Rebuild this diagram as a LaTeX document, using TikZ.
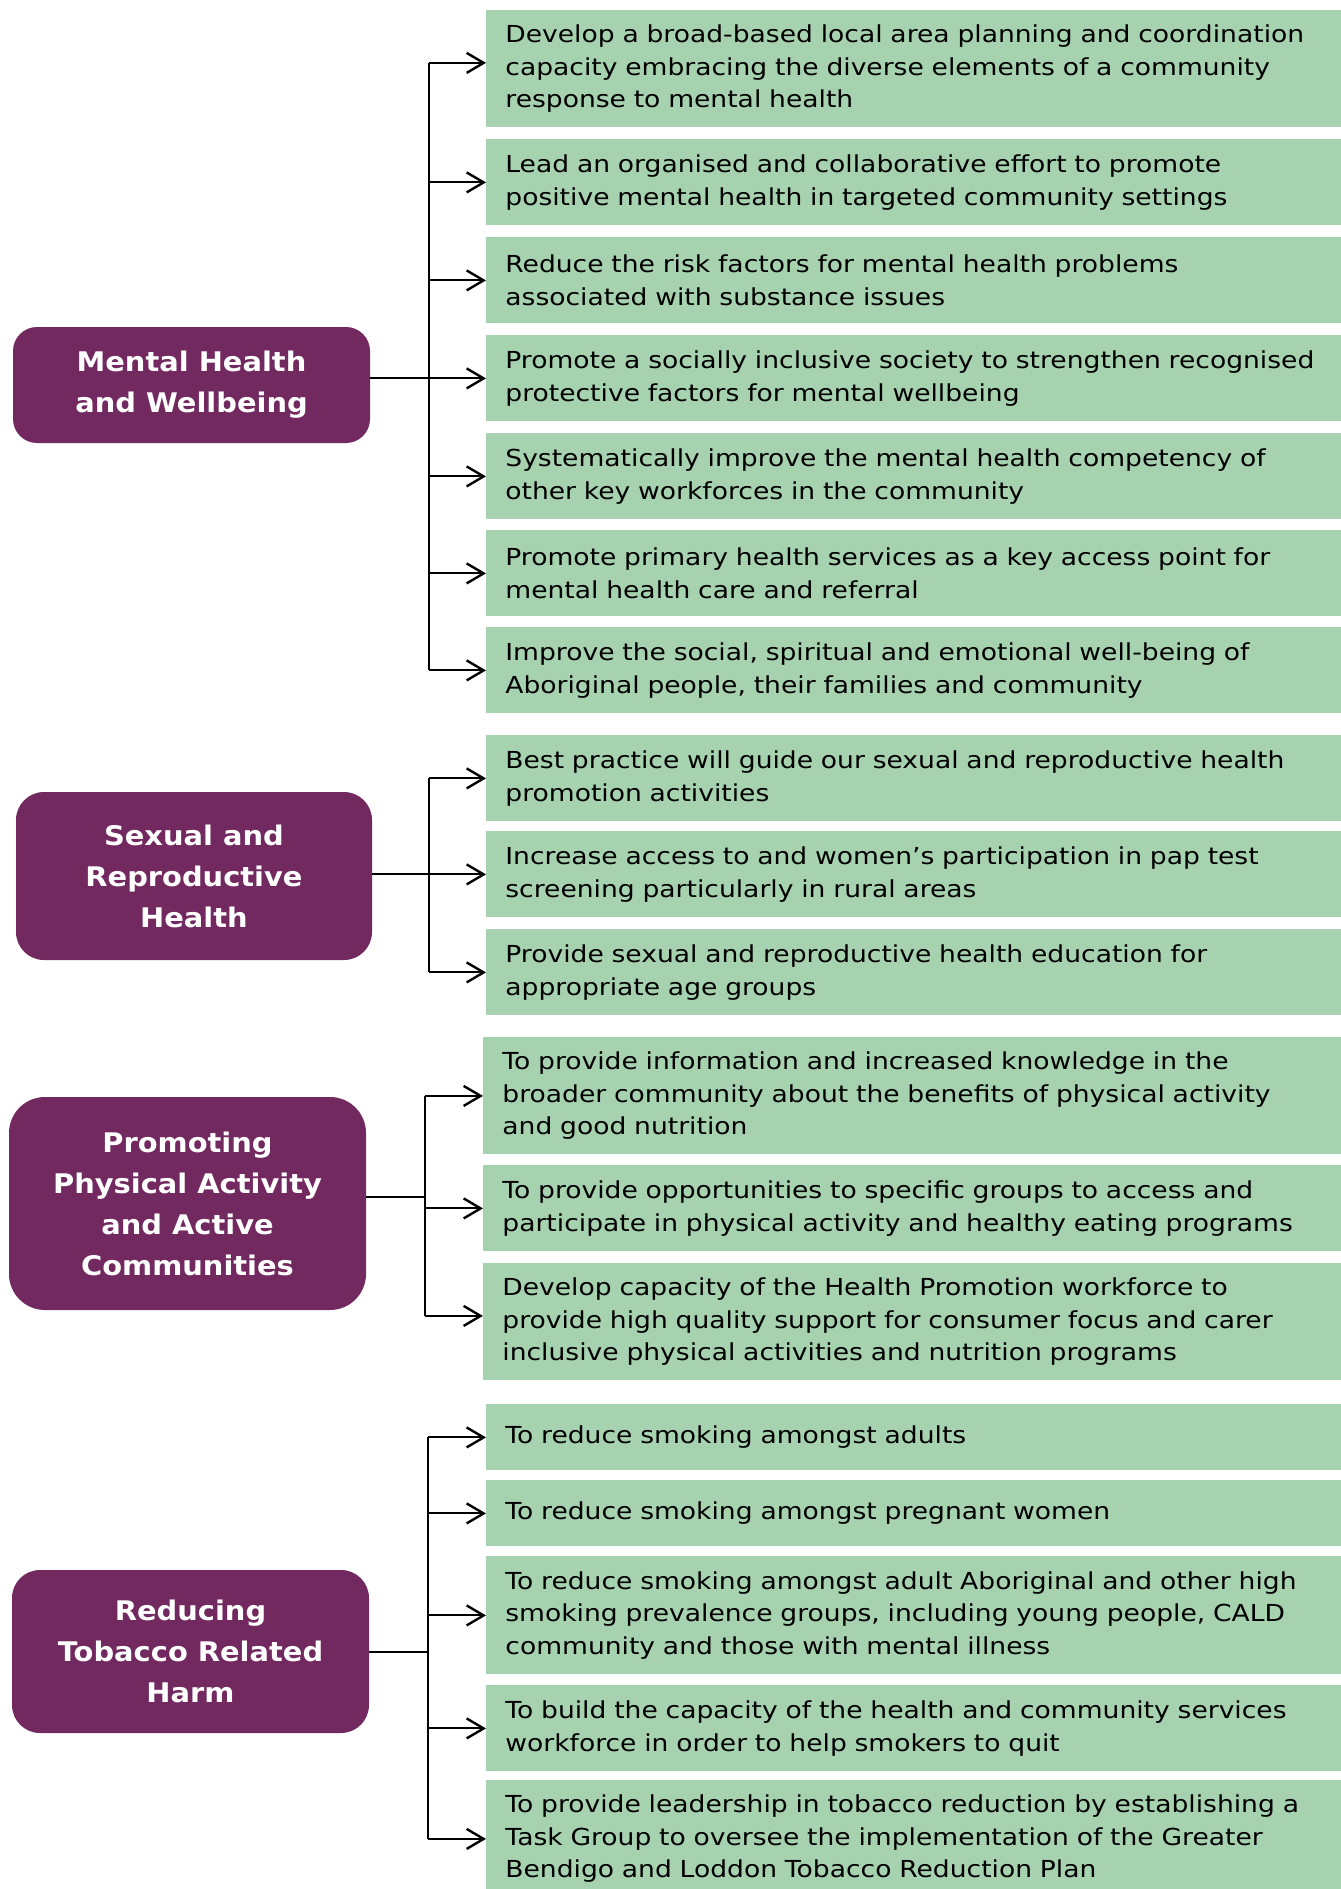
\documentclass[tikz,border=0pt]{standalone}
\usepackage{fontspec}
\setmainfont{DejaVu Sans}[FakeStretch=1.135, BoldFeatures={FakeStretch=1.07}]
\usetikzlibrary{arrows.meta}
\definecolor{sage}{RGB}{167,210,175}
\definecolor{plum}{RGB}{114,41,96}
\tikzset{
	goal/.style={fill=sage, anchor=north west, text width=430pt, inner xsep=9.5pt, inner ysep=0pt, align=left, font=\fontsize{11.7}{16.25}\selectfont},
	theme/.style={fill=plum, text=white, align=center, inner sep=0pt, font=\bfseries\fontsize{13.5}{20.5}\selectfont},
	trunk/.style={line width=1pt},
	branch/.style={line width=1pt, -{Straight Barb[length=8.5pt,width=10pt,line width=1.2pt]}}
}

\begin{document}
\begin{tikzpicture}[x=0.5pt, y=-0.5pt]
			%%%%% START %%%%%
			
			\fill[white] (0, 0) rectangle (1340, 1889);
			\useasboundingbox (0, 0) rectangle (1340, 1889);
			
			% themes
			\node[theme, minimum width=178.5pt, minimum height=58pt, rounded corners=12pt] (mental) at (191.5, 385) {Mental Health\\and Wellbeing};
			\node[theme, minimum width=178pt, minimum height=84pt, rounded corners=14pt] (sexual) at (194, 876) {Sexual and\\Reproductive\\Health};
			\node[theme, minimum width=178.5pt, minimum height=106.5pt, rounded corners=18pt] (active) at (187.5, 1203.5) {Promoting\\Physical Activity\\and Active\\Communities};
			\node[theme, minimum width=178.5pt, minimum height=81.5pt, rounded corners=14pt] (tobacco) at (190.5, 1651.5) {Reducing\\Tobacco Related\\Harm};
			
			% mental health goals
			\node[goal, minimum height=58.5pt] (m1) at (486, 10) {Develop a broad-based local area planning and coordination\\capacity embracing the diverse elements of a community\\response to mental health};
			\node[goal, minimum height=43pt] (m2) at (486, 139) {Lead an organised and collaborative effort to promote\\positive mental health in targeted community settings};
			\node[goal, minimum height=43pt] (m3) at (486, 237) {Reduce the risk factors for mental health problems\\associated with substance issues};
			\node[goal, minimum height=43pt] (m4) at (486, 335) {Promote a socially inclusive society to strengthen recognised\\protective factors for mental wellbeing};
			\node[goal, minimum height=43pt] (m5) at (486, 433) {Systematically improve the mental health competency of\\other key workforces in the community};
			\node[goal, minimum height=43pt] (m6) at (486, 530) {Promote primary health services as a key access point for\\mental health care and referral};
			\node[goal, minimum height=43pt] (m7) at (486, 627) {Improve the social, spiritual and emotional well-being of\\Aboriginal people, their families and community};
			
			% sexual health goals
			\node[goal, minimum height=43pt] (s1) at (486, 735) {Best practice will guide our sexual and reproductive health\\promotion activities};
			\node[goal, minimum height=43pt] (s2) at (486, 831) {Increase access to and women’s participation in pap test\\screening particularly in rural areas};
			\node[goal, minimum height=43pt] (s3) at (486, 929) {Provide sexual and reproductive health education for\\appropriate age groups};
			
			% physical activity goals
			\node[goal, minimum height=58.5pt] (a1) at (483, 1037) {To provide information and increased knowledge in the\\broader community about the benefits of physical activity\\and good nutrition};
			\node[goal, minimum height=43pt] (a2) at (483, 1165) {To provide opportunities to specific groups to access and\\participate in physical activity and healthy eating programs};
			\node[goal, minimum height=58.5pt] (a3) at (483, 1263) {Develop capacity of the Health Promotion workforce to\\provide high quality support for consumer focus and carer\\inclusive physical activities and nutrition programs};
			
			% tobacco goals
			\node[goal, minimum height=33pt] (t1) at (486, 1404) {To reduce smoking amongst adults};
			\node[goal, minimum height=33pt] (t2) at (486, 1480) {To reduce smoking amongst pregnant women};
			\node[goal, minimum height=59pt] (t3) at (486, 1556) {To reduce smoking amongst adult Aboriginal and other high\\smoking prevalence groups, including young people, CALD\\community and those with mental illness};
			\node[goal, minimum height=43pt] (t4) at (486, 1685) {To build the capacity of the health and community services\\workforce in order to help smokers to quit};
			\node[goal, minimum height=58.5pt] (t5) at (486, 1780) {To provide leadership in tobacco reduction by establishing a\\Task Group to oversee the implementation of the Greater\\Bendigo and Loddon Tobacco Reduction Plan};
			
			% trunks
			\coordinate (mx) at (429, 0);
			\coordinate (sx) at (429, 0);
			\coordinate (ax) at (425, 0);
			\coordinate (tx) at (428, 0);
			\coordinate (m1in) at ([yshift=3pt]m1.west);
			\coordinate (a3in) at ([yshift=3pt]a3.west);
			\coordinate (ajoin) at ([yshift=3.5pt]active.east);
			
			\draw[trunk] (m1in -| mx) -- (m7.west -| mx);
			\draw[trunk] (mental.east |- m4.west) -- (m4.west -| mx);
			\draw[branch] (m1in -| mx) -- (m1in);
			\foreach \i in {2,...,7} \draw[branch] (m\i.west -| mx) -- (m\i.west);
			
			\draw[trunk] (s1.west -| sx) -- (s3.west -| sx);
			\draw[trunk] (sexual.east |- s2.west) -- (s2.west -| sx);
			\foreach \i in {1,...,3} \draw[branch] (s\i.west -| sx) -- (s\i.west);
			
			\draw[trunk] (a1.west -| ax) -- (a3in -| ax);
			\draw[trunk] (ajoin) -- (ajoin -| ax);
			\foreach \i in {1,2} \draw[branch] (a\i.west -| ax) -- (a\i.west);
			\draw[branch] (a3in -| ax) -- (a3in);
			
			\draw[trunk] (t1.west -| tx) -- (t5.west -| tx);
			\draw[trunk] (tobacco.east) -- (tobacco.east -| tx);
			\foreach \i in {1,...,5} \draw[branch] (t\i.west -| tx) -- (t\i.west);
			
			%%%%% END %%%%%
\end{tikzpicture}
\end{document}
